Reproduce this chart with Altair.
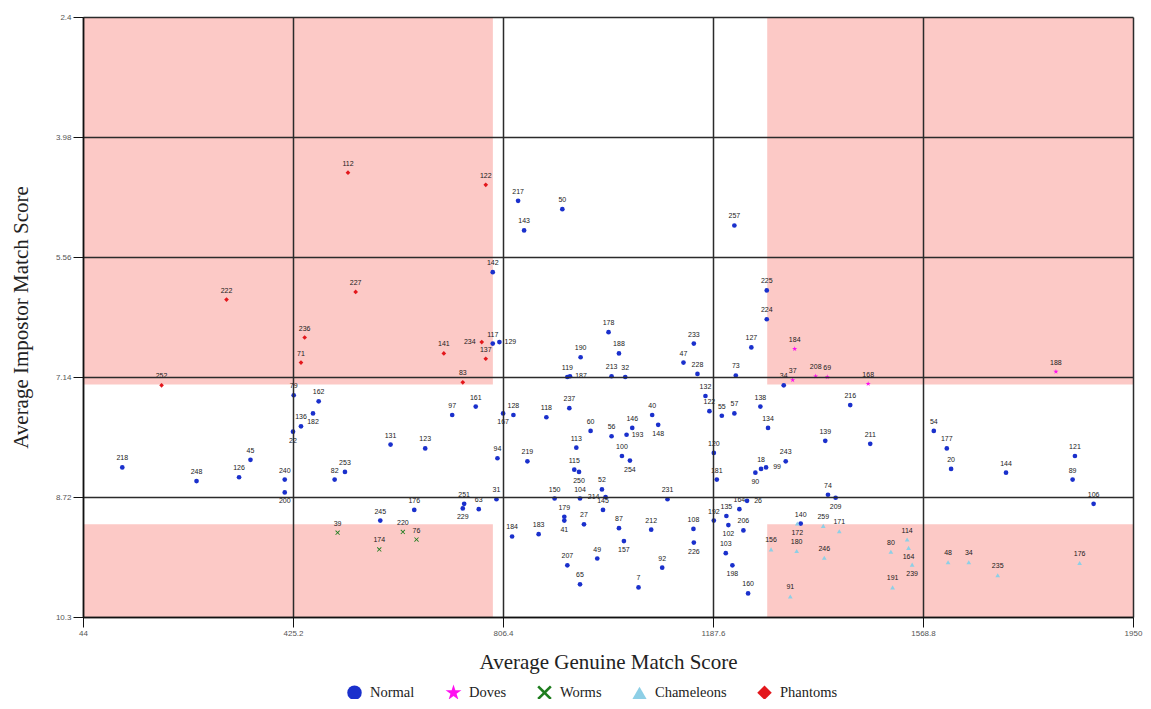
import altair as alt
import pandas as pd

# ---------------- data ----------------
groups_order = ["Normal", "Doves", "Worms", "Chameleons", "Phantoms"]
group_colors = ["#1a30cc", "#ff10f0", "#1e7d1e", "#8dcfe6", "#e3171c"]

normal_ids = ["79", "162", "136", "182", "22", "218", "248", "126", "45", "240", "200",
              "217", "143", "142", "117", "129", "161", "97", "167", "128", "118", "131",
              "123", "94", "219", "82", "253", "31", "150", "251", "229", "63", "176",
              "245", "184", "183", "50", "257", "225", "224", "178", "188", "190", "233",
              "47", "228", "127", "73", "119", "187", "213", "32", "132", "34", "138",
              "237", "40", "146", "148", "193", "56", "60", "113", "100", "254", "115",
              "250", "52", "104", "214", "231", "179", "41", "27", "145", "87", "212",
              "108", "157", "226", "49", "207", "92", "65", "7", "122", "55", "57", "134",
              "120", "181", "243", "18", "99", "90", "164", "26", "135", "192", "102",
              "206", "103", "198", "160", "216", "54", "139", "211", "177", "20", "74",
              "209", "140", "121", "144", "89", "106"]
normal_genuine = [426.5, 471.8, 439.7, 461.5, 425.2, 115.3, 250.1, 327.3, 348, 410.2, 410.2,
                  833.8, 844.7, 787.8, 787.8, 799.9, 756.9, 714.2, 806.6, 825.3, 885.1, 602.3,
                  665.2, 796.3, 850.7, 500.8, 519.5, 794.5, 900.1, 735.9, 733.4, 762.4, 645.3,
                  583.6, 822.9, 871.1, 914.1, 1226.4, 1285.2, 1285.2, 998, 1016.9, 947.3, 1152.8,
                  1134, 1159.4, 1257.2, 1229, 923.2, 928, 1003.5, 1028.3, 1173.9, 1316, 1273.6,
                  926.8, 1077.2, 1041, 1088.1, 1030.7, 1003.5, 965.4, 939.5, 1022.3, 1036.8, 935.8,
                  944.4, 986, 946.2, 992.6, 1105, 917.7, 917.7, 953.4, 987.9, 1016.9, 1075.4,
                  1152.1, 1025.9, 1152.8, 977.5, 923.2, 1095.4, 946.2, 1052.4, 1181.1, 1203.6, 1226.4, 1287.5,
                  1189.1, 1194.5, 1319.6, 1274.8, 1283.9, 1264.5, 1235.5, 1249.4, 1211.9, 1189.1, 1215.5,
                  1242.8, 1210.8, 1222.8, 1251.3, 1436.7, 1588.4, 1391.4, 1473, 1612, 1619.8, 1396.3,
                  1410.2, 1346.8, 1844.6, 1719.5, 1840.4, 1878.5]
normal_impostor = [7.38, 7.46, 7.79, 7.62, 7.86, 8.33, 8.51, 8.46, 8.23, 8.49, 8.66,
                   4.82, 5.21, 5.76, 6.70, 6.68, 7.53, 7.64, 7.62, 7.64, 7.67, 8.03,
                   8.08, 8.21, 8.25, 8.49, 8.39, 8.75, 8.74, 8.81, 8.87, 8.88, 8.89,
                   9.03, 9.24, 9.21, 4.93, 5.145, 6.00, 6.38, 6.55, 6.83, 6.88, 6.70,
                   6.95, 7.10, 6.75, 7.12, 7.14, 7.13, 7.13, 7.14, 7.39, 7.25, 7.53,
                   7.55, 7.64, 7.81, 7.77, 7.90, 7.92, 7.85, 8.07, 8.18, 8.24, 8.36,
                   8.39, 8.62, 8.74, 8.72, 8.75, 8.98, 9.03, 9.08, 8.89, 9.13, 9.15,
                   9.14, 9.30, 9.32, 9.53, 9.62, 9.65, 9.87, 9.91, 7.59, 7.65, 7.62, 7.81,
                   8.14, 8.49, 8.25, 8.35, 8.33, 8.40, 8.88, 8.77, 8.97, 9.03, 9.09,
                   9.16, 9.46, 9.62, 9.99, 7.51, 7.85, 7.98, 8.02, 8.08, 8.35, 8.69,
                   8.73, 9.07, 8.18, 8.40, 8.49, 8.81]

phantom_ids = ["252", "222", "236", "71", "112", "122", "227", "141", "234", "137", "83"]
phantom_genuine = [186.6, 304.5, 446.4, 439.7, 525, 775.1, 538.9, 699, 767.8, 775.1, 733.4]
phantom_impostor = [7.25, 6.12, 6.62, 6.95, 4.45, 4.61, 6.02, 6.83, 6.68, 6.90, 7.21]

dove_ids = ["184", "37", "208", "69", "168", "188"]
dove_genuine = [1335.9, 1332.3, 1374, 1395, 1469.3, 1810.1]
dove_impostor = [6.77, 7.18, 7.13, 7.14, 7.23, 7.07]

worm_ids = ["39", "220", "76", "174"]
worm_genuine = [506.2, 624.6, 649.4, 581.8]
worm_impostor = [9.19, 9.18, 9.28, 9.41]

chameleon_ids = ["156", "172", "259", "171", "180", "246", "91", "80", "114", "164",
                 "239", "191", "48", "34", "235", "176"]
chameleon_genuine = [1293, 1340.6, 1387.7, 1416.8, 1339.5, 1389.6, 1327.9, 1510.5, 1540,
                     1542.6, 1549.1, 1513.6, 1614.3, 1651.9, 1704.4, 1853.1]
chameleon_impostor = [9.41, 9.07, 9.10, 9.17, 9.43, 9.52, 10.03, 9.44, 9.28, 9.39,
                      9.61, 9.91, 9.58, 9.58, 9.75, 9.59]

x_ticks = [44, 425.2, 806.4, 1187.6, 1568.8, 1950]
y_ticks = [2.4, 3.98, 5.56, 7.14, 8.72, 10.3]

# zone thresholds (genuine low/high, impostor low/high)
genuine_low, genuine_high = 788, 1286
impostor_low, impostor_high = 7.24, 9.08

# label placement exceptions (default: above)
labels_below = {("Normal", "200"), ("Normal", "167"), ("Normal", "229"), ("Normal", "148"),
                ("Normal", "254"), ("Normal", "250"), ("Normal", "41"), ("Normal", "157"),
                ("Normal", "226"), ("Normal", "90"), ("Normal", "102"), ("Normal", "198"),
                ("Normal", "209"), ("Normal", "22"), ("Normal", "182"),
                ("Chameleons", "172"), ("Chameleons", "164"), ("Chameleons", "239")}
labels_right = {("Normal", "129"), ("Normal", "187"), ("Normal", "193"), ("Normal", "99"),
                ("Normal", "26")}
labels_left = {("Phantoms", "234"), ("Normal", "214")}

# ---------------- tables ----------------
rows = []
for g, ids, xs, ys in [("Normal", normal_ids, normal_genuine, normal_impostor),
                       ("Phantoms", phantom_ids, phantom_genuine, phantom_impostor),
                       ("Doves", dove_ids, dove_genuine, dove_impostor),
                       ("Worms", worm_ids, worm_genuine, worm_impostor),
                       ("Chameleons", chameleon_ids, chameleon_genuine, chameleon_impostor)]:
    for i, x, y in zip(ids, xs, ys):
        key = (g, i)
        pos = "below" if key in labels_below else "right" if key in labels_right else \
              "left" if key in labels_left else "above"
        rows.append({"id": i, "group": g, "genuine": x, "impostor": y, "pos": pos})
df = pd.DataFrame(rows)

xmin, xmax = x_ticks[0], x_ticks[-1]
ymin, ymax = y_ticks[0], y_ticks[-1]
zones = pd.DataFrame([
    {"x": xmin, "x2": genuine_low, "y": ymin, "y2": impostor_low},
    {"x": genuine_high, "x2": xmax, "y": ymin, "y2": impostor_low},
    {"x": xmin, "x2": genuine_low, "y": impostor_high, "y2": ymax},
    {"x": genuine_high, "x2": xmax, "y": impostor_high, "y2": ymax},
])

star = ("M0,-1.15L0.26,-0.36L1.09,-0.36L0.42,0.13L0.68,0.93L0,0.44L-0.68,0.93"
        "L-0.42,0.13L-1.09,-0.36L-0.26,-0.36Z")
xshape = ("M-1,-0.75L-0.75,-1L0,-0.25L0.75,-1L1,-0.75L0.25,0L1,0.75L0.75,1L0,0.25"
          "L-0.75,1L-1,0.75L-0.25,0Z")
shapes = ["circle", star, xshape, "triangle-up", "diamond"]

xscale = alt.Scale(domain=[xmin, xmax], nice=False, zero=False)
yscale = alt.Scale(domain=[ymin, ymax], nice=False, zero=False, reverse=True)

axis_common = dict(format=".6~g", grid=True, gridColor="#2b2b2b", gridWidth=1.5, gridOpacity=1,
                   domainColor="#111", domainWidth=1.5, tickColor="#111", tickSize=10,
                   labelFont="Liberation Sans", labelFontSize=8, labelColor="#555",
                   labelPadding=2, titleFont="Liberation Serif", titleFontSize=21,
                   titleFontWeight="normal", titleColor="#222", zindex=1)

xaxis = alt.Axis(values=x_ticks, title="Average Genuine Match Score", titlePadding=14,
                 labelFlush=False, **axis_common)
yaxis = alt.Axis(values=y_ticks, title="Average Impostor Match Score", titlePadding=24,
                 labelFlush=False, **axis_common)

zone_layer = alt.Chart(zones).mark_rect(color="#fcc9c6", opacity=1).encode(
    x=alt.X("x:Q", scale=xscale, axis=xaxis),
    x2="x2:Q",
    y=alt.Y("y:Q", scale=yscale, axis=yaxis),
    y2="y2:Q",
)

base = alt.Chart(df).encode(
    x=alt.X("genuine:Q", scale=xscale, axis=xaxis),
    y=alt.Y("impostor:Q", scale=yscale, axis=yaxis),
)

points = base.mark_point(filled=True, size=22, opacity=1).encode(
    color=alt.Color("group:N", scale=alt.Scale(domain=groups_order, range=group_colors),
                    legend=alt.Legend(title=None)),
    shape=alt.Shape("group:N", scale=alt.Scale(domain=groups_order, range=shapes),
                    legend=alt.Legend(title=None)),
)

txt = dict(font="Liberation Sans", fontSize=7, color="#1a1a1a")
t_above = base.mark_text(dy=-9, **txt).encode(text="id:N").transform_filter("datum.pos == 'above'")
t_below = base.mark_text(dy=9, **txt).encode(text="id:N").transform_filter("datum.pos == 'below'")
t_right = base.mark_text(dx=11, **txt).encode(text="id:N").transform_filter("datum.pos == 'right'")
t_left = base.mark_text(dx=-12, **txt).encode(text="id:N").transform_filter("datum.pos == 'left'")

chart = alt.layer(zone_layer, points, t_above, t_below, t_right, t_left).properties(
    width=1050, height=600,
    autosize=alt.AutoSizeParams(type="none"),
    padding={"left": 75, "top": 9, "right": 10, "bottom": 82},
).configure_view(stroke=None).configure_legend(
    orient="none", legendX=264, legendY=668, direction="horizontal",
    symbolSize=210, symbolStrokeWidth=0, labelFont="Liberation Serif", labelFontSize=14.5,
    labelColor="#222", labelOffset=8, columnPadding=30,
)

chart.save("out.html", embed_options={"renderer": "svg", "actions": False})
